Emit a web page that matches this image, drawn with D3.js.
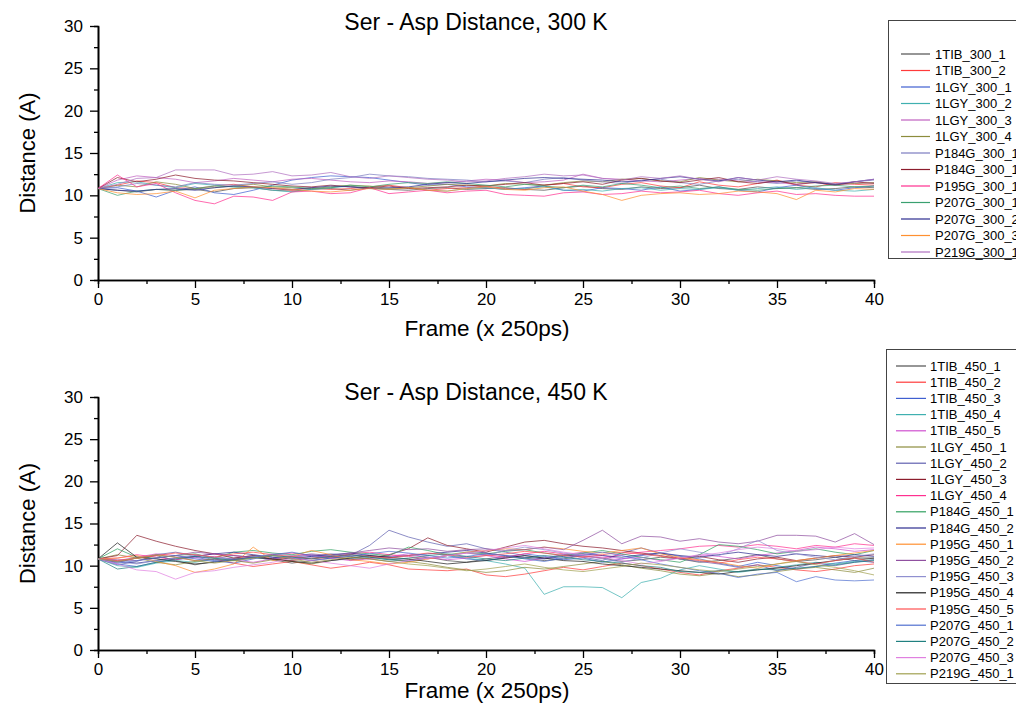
<!DOCTYPE html>
<html>
<head>
<meta charset="utf-8">
<script src="https://cdn.jsdelivr.net/npm/d3@7"></script>
<style>
body { margin: 0; background: #fff; }
svg { display: block; font-family: "Liberation Sans", Arial, sans-serif; }
</style>
</head>
<body>
<script>
// frame index (x 250ps)
var frames = [0,1,2,3,4,5,6,7,8,9,10,11,12,13,14,15,16,17,18,19,20,
              21,22,23,24,25,26,27,28,29,30,31,32,33,34,35,36,37,38,39,40]

// 300 K runs
var names300 = ["1TIB_300_1","1TIB_300_2","1LGY_300_1","1LGY_300_2","1LGY_300_3","1LGY_300_4",
                "P184G_300_1","P184G_300_1","P195G_300_1","P207G_300_1","P207G_300_2","P207G_300_3","P219G_300_1"]
var colors300 = ["#505050","#ff3a3a","#3f5fd0","#3fb0b0","#c060c0","#8c8c3c",
                 "#7c7cc0","#8c1c2c","#ff3090","#3aa070","#2c2c90","#ff9030","#b070c0"]
var dist300 = [
  [10.8,10.6,10.4,10.7,10.6,10.7,10.4,10.8,10.9,10.6,10.5,10.7,10.8,10.6,10.9,10.7,10.6,10.8,10.9,10.7,10.8,10.9,10.7,10.6,10.9,11.1,10.8,10.7,11.0,10.8,10.9,11.2,10.8,10.7,11.0,10.8,10.9,10.7,10.8,11.0,10.9],
  [10.8,11.2,11.7,11.5,10.9,10.8,11.1,11.3,11.0,10.8,10.6,10.9,10.7,10.8,11.0,11.2,10.9,10.6,10.8,10.9,11.1,10.8,10.7,11.2,11.4,11.0,10.9,11.3,11.5,11.1,10.9,11.6,11.2,11.0,11.4,11.8,11.2,11.0,11.5,11.3,11.2],
  [10.8,10.9,10.5,9.8,10.6,11.0,10.3,10.1,10.6,11.2,11.8,12.1,12.3,12.2,12.1,11.8,11.5,11.2,11.3,11.0,10.9,10.7,10.9,11.1,10.6,10.5,10.9,10.8,10.6,11.0,10.5,10.7,11.0,10.6,10.4,10.9,11.2,10.8,10.6,10.9,11.1],
  [10.8,11.5,11.6,11.2,10.9,11.4,11.2,11.0,10.9,10.6,10.4,10.7,10.9,11.1,10.8,10.7,10.9,10.6,10.5,10.8,10.9,10.7,10.8,11.0,10.6,10.7,10.5,10.8,10.9,10.6,10.8,10.7,10.9,10.6,10.8,11.0,10.7,10.9,10.6,10.5,10.7],
  [10.8,11.8,12.3,12.1,11.9,11.5,11.7,12.0,11.8,11.6,11.9,12.0,11.8,11.6,11.5,11.7,11.6,11.4,11.5,11.7,11.9,11.8,11.5,11.6,11.8,12.5,12.0,11.9,11.7,11.6,11.8,12.0,11.9,11.7,11.6,11.5,11.3,11.6,11.2,11.4,11.5],
  [10.8,11.2,11.0,11.6,11.3,10.8,10.9,11.1,11.3,11.0,10.9,10.8,11.0,11.2,11.1,10.8,10.9,11.1,11.3,11.2,11.1,11.4,11.3,11.2,11.5,11.7,11.6,11.9,12.0,11.7,11.6,12.1,11.8,11.6,11.9,11.7,11.5,11.6,11.3,11.4,11.5],
  [10.8,11.0,11.4,11.2,11.0,11.5,11.3,11.2,11.4,11.6,11.3,11.5,11.9,12.1,12.5,12.3,12.2,12.0,11.9,11.8,11.6,11.7,11.5,11.9,12.1,11.8,11.6,11.4,11.8,11.9,11.5,11.3,11.7,11.9,11.6,11.4,11.7,11.5,11.3,11.6,11.8],
  [10.8,12.1,11.6,11.9,12.4,12.0,11.8,11.7,11.5,11.3,11.1,11.0,11.2,11.0,10.9,11.1,10.8,10.9,11.0,11.2,11.1,11.3,11.5,11.2,11.4,11.6,11.3,11.8,12.0,11.7,11.5,11.8,12.1,11.6,11.4,11.7,11.3,11.5,11.2,11.6,11.4],
  [10.8,12.4,11.0,11.4,10.3,9.4,9.0,9.9,9.8,9.4,10.4,10.5,10.2,10.3,10.9,10.2,10.4,10.6,10.3,10.5,10.6,10.1,10.0,9.9,10.3,10.4,10.1,10.2,10.5,10.3,10.4,10.6,10.2,10.0,10.3,10.5,10.1,10.2,10.0,9.9,9.9],
  [10.8,10.0,10.5,10.7,10.6,10.8,11.1,11.0,10.9,11.1,11.0,10.8,10.9,11.2,11.0,11.3,11.5,11.4,11.6,11.4,11.2,11.0,11.3,11.1,10.9,11.2,11.0,11.4,11.2,10.9,11.1,10.8,11.0,10.7,10.6,10.8,10.9,11.1,11.2,11.0,11.1],
  [10.8,10.6,10.5,10.7,10.8,10.6,10.9,11.1,11.0,10.8,10.7,10.9,11.1,11.0,10.8,10.9,11.0,11.3,11.5,11.4,11.6,11.8,12.0,12.1,12.0,11.9,11.8,11.6,11.7,12.0,12.2,11.9,11.7,12.1,11.8,11.6,11.8,11.5,11.3,11.6,11.9],
  [10.8,10.3,10.1,10.2,10.5,9.7,10.6,10.8,11.0,10.9,10.7,10.5,10.4,10.6,10.8,10.7,10.9,10.6,10.5,10.8,11.0,10.7,10.6,10.9,11.0,10.5,10.1,9.4,10.0,10.2,10.3,10.1,10.2,10.5,10.4,10.2,9.5,10.6,10.4,10.8,10.7],
  [10.8,11.3,12.0,12.1,13.0,13.0,13.0,12.4,12.5,12.8,12.3,12.4,12.7,12.2,12.0,12.3,12.1,11.9,11.8,11.6,11.7,12.0,12.2,12.5,12.3,12.4,12.0,11.8,12.2,12.0,12.3,11.9,11.6,12.1,11.8,12.2,11.9,11.7,11.4,11.6,11.9]
]

// 450 K runs
var names450 = ["1TIB_450_1","1TIB_450_2","1TIB_450_3","1TIB_450_4","1TIB_450_5","1LGY_450_1","1LGY_450_2",
                "1LGY_450_3","1LGY_450_4","P184G_450_1","P184G_450_2","P195G_450_1","P195G_450_2","P195G_450_3",
                "P195G_450_4","P195G_450_5","P207G_450_1","P207G_450_2","P207G_450_3","P219G_450_1"]
var colors450 = ["#505050","#ff3a3a","#3f5fd0","#3fb0b0","#d050d0","#8c8c3c","#6060b0",
                 "#8c1c2c","#ff3090","#30a060","#2c2c90","#ff9030","#9050a0","#9090d0",
                 "#202020","#ff5050","#5070d0","#208080","#e080e0","#a0a050"]
var dist450 = [
  [10.8,10.4,10.9,11.2,10.6,10.1,10.5,10.8,11.0,10.7,10.3,10.6,10.9,11.1,10.8,10.5,10.7,11.0,10.6,10.4,10.8,11.1,10.9,10.6,10.8,11.2,10.9,10.5,10.7,11.0,10.8,10.4,10.6,10.9,11.3,10.8,10.5,10.7,11.0,10.6,10.9],
  [10.8,10.5,10.9,11.3,11.0,10.6,10.8,10.3,9.9,10.2,10.5,10.1,9.7,10.0,10.4,10.1,9.6,9.5,9.4,9.6,8.9,8.7,9.0,9.4,9.8,9.5,9.9,10.3,10.0,9.6,9.2,8.9,9.4,9.7,10.1,9.8,9.5,9.3,9.6,10.0,10.2],
  [10.8,10.2,9.9,10.4,10.7,11.0,10.6,10.3,10.8,11.2,11.0,10.6,10.9,11.3,11.1,10.8,10.5,10.9,11.2,10.8,10.6,11.0,11.4,11.1,10.7,10.9,10.4,10.8,11.2,11.5,11.1,10.8,10.3,9.9,10.4,10.0,9.6,9.9,10.3,10.6,10.4],
  [10.8,10.0,9.8,10.3,10.6,10.4,10.8,11.2,11.0,10.7,10.9,11.3,11.1,10.8,11.0,10.7,10.5,10.9,11.2,10.9,10.6,10.2,9.7,6.6,7.5,7.5,7.4,6.2,8.0,8.5,9.5,10.0,9.6,9.2,9.5,9.8,10.1,10.4,10.2,10.5,10.7],
  [10.8,10.6,11.0,11.4,11.2,10.9,11.1,10.7,10.4,10.8,11.0,11.3,10.9,10.6,10.8,11.1,11.4,11.0,10.7,10.9,11.2,10.8,10.5,10.9,11.3,11.6,11.2,10.8,11.0,10.6,10.9,11.3,11.1,10.8,11.2,11.5,11.8,12.2,12.0,11.7,11.9],
  [10.8,11.3,10.9,10.4,10.1,10.5,10.8,10.6,10.3,10.7,10.5,10.2,10.6,10.9,11.1,10.8,10.5,10.2,9.8,9.5,9.2,9.4,9.8,9.6,9.9,10.2,10.5,10.1,9.7,9.4,9.0,8.8,9.1,8.7,8.9,9.3,9.6,9.8,9.5,9.2,9.7],
  [10.8,10.1,10.5,11.3,11.6,11.2,10.7,10.9,11.2,11.0,10.8,11.1,11.4,11.2,12.4,14.2,13.4,12.8,12.3,12.6,12.0,11.6,11.2,10.9,11.3,11.0,10.6,11.5,12.1,11.5,10.8,10.5,10.2,9.8,10.1,9.4,9.8,10.3,10.0,10.4,10.7],
  [10.8,11.2,13.6,12.9,12.3,11.8,11.4,10.9,11.2,10.8,10.6,10.9,11.1,10.7,10.9,11.3,12.0,13.3,12.4,12.0,11.6,12.2,12.8,13.0,12.6,12.3,12.1,11.8,11.5,11.2,10.8,11.1,10.7,10.4,10.8,11.0,10.6,10.9,11.2,11.0,11.3],
  [10.8,10.9,11.3,11.0,10.7,11.1,11.4,11.2,10.9,11.3,11.5,11.2,11.0,11.4,11.6,11.3,11.1,10.8,11.2,11.5,11.3,11.0,11.4,11.7,11.4,11.1,10.9,11.3,11.6,11.8,12.0,12.3,12.4,12.2,12.5,12.3,12.0,12.4,12.2,12.6,12.4],
  [10.8,12.0,11.0,10.9,11.2,11.4,10.9,11.6,11.8,11.5,11.3,11.7,11.9,11.6,11.4,11.2,12.2,11.8,11.3,11.6,11.4,11.7,11.9,11.5,11.2,11.5,11.8,11.4,11.0,10.7,10.4,11.3,12.5,12.3,11.9,11.4,11.7,12.0,11.6,11.3,11.8],
  [10.8,10.5,10.3,10.6,10.9,11.1,11.4,11.6,11.3,11.0,10.8,11.1,11.3,11.5,11.2,11.0,11.2,11.4,11.6,11.8,11.5,11.2,11.0,10.8,11.1,11.4,11.2,11.0,11.3,11.5,11.2,11.0,11.3,11.6,11.3,11.1,11.4,11.2,11.0,11.3,11.1],
  [10.8,10.9,11.2,10.5,10.0,9.2,9.6,10.2,12.2,10.6,11.1,11.8,11.3,10.7,10.5,10.2,10.4,10.8,11.2,11.6,11.8,12.0,11.9,12.2,12.0,11.7,11.5,11.8,12.1,11.4,11.0,10.7,10.4,10.0,9.7,10.2,10.6,10.9,11.2,11.5,11.8],
  [10.8,10.7,10.6,10.9,11.2,11.6,11.4,11.2,11.0,10.8,11.1,11.4,11.2,11.5,11.8,12.1,11.9,12.0,11.7,11.9,12.0,11.8,11.9,12.2,11.9,13.0,14.2,12.6,13.5,13.4,12.9,13.2,12.8,12.6,12.9,13.6,13.6,13.5,12.8,13.8,12.5],
  [10.8,10.5,10.2,10.6,10.9,11.3,11.0,10.7,11.0,11.4,11.2,10.9,10.6,10.8,11.1,10.9,10.6,10.9,11.2,11.5,11.2,11.8,12.2,11.9,11.5,11.2,10.8,10.4,10.9,11.5,12.0,11.6,11.2,12.0,13.0,11.8,11.4,11.0,10.7,11.1,11.4],
  [10.8,12.7,11.0,10.8,10.5,10.2,10.4,10.7,11.0,10.8,10.5,10.3,10.6,10.9,11.2,11.0,10.8,10.5,10.2,10.4,10.6,10.9,11.2,10.9,10.6,10.5,10.2,10.0,9.8,9.6,9.4,9.2,9.0,9.3,9.5,9.7,10.0,10.3,10.6,10.9,10.9],
  [10.8,10.6,10.9,11.2,11.5,11.3,11.0,11.4,11.6,11.3,11.1,10.8,11.0,11.3,11.1,10.9,11.2,11.5,11.3,11.0,11.2,11.4,11.7,11.5,11.2,11.0,11.3,11.6,11.4,11.1,10.9,10.6,10.3,10.7,11.0,10.8,10.5,10.2,10.6,10.9,10.4],
  [10.8,10.3,10.6,10.9,11.2,10.8,10.5,10.7,11.0,11.3,11.6,11.2,10.9,11.1,11.4,11.7,11.5,11.2,10.9,11.1,11.4,11.2,10.8,10.5,10.9,11.3,11.6,11.2,10.7,10.2,9.8,9.4,9.1,8.6,9.0,9.2,8.1,8.7,8.3,8.2,8.3],
  [10.8,9.6,9.9,10.4,10.8,11.1,10.9,10.6,10.9,11.2,11.0,10.8,11.1,11.3,11.0,10.7,10.9,11.2,11.4,11.1,10.8,10.6,10.9,11.2,11.0,10.7,10.5,10.3,10.0,9.8,9.3,9.2,9.4,9.3,9.6,9.5,9.7,9.9,10.1,10.4,10.6],
  [10.8,10.2,9.5,9.3,8.4,9.2,9.4,9.8,10.1,10.4,10.9,10.6,10.3,10.0,9.7,10.2,10.6,10.9,11.2,11.5,11.8,12.1,12.4,12.0,11.6,11.3,11.0,10.6,10.2,10.5,10.9,11.2,11.5,11.9,12.2,12.0,11.7,11.9,12.2,12.0,12.1],
  [10.8,10.5,10.9,11.3,11.0,10.6,10.3,10.6,10.9,11.2,10.8,10.4,10.7,11.0,10.8,10.5,10.2,10.0,9.7,9.4,9.6,9.9,10.2,9.8,9.5,9.3,9.6,9.9,10.3,10.1,9.8,9.5,9.3,9.6,9.9,10.2,10.5,10.1,9.8,9.4,8.9]
]

var xTicks = [0,5,10,15,20,25,30,35,40]
var yTicks = [0,5,10,15,20,25,30]

// svg
var svg = d3.select("body")
    .append("svg")
        .attr("width", 1016)
        .attr("height", 708)

var x = d3.scaleLinear()
    .domain([0, 40])
    .range([98, 874])

var panels = [
    { title: "Ser - Asp Distance, 300 K", names: names300, colors: colors300, series: dist300,
      bottom: 280, top: 26, titleY: 30, xLabelY: 336,
      legend: { x: 888, y: 20, h: 238, first: 54, step: 16.5, l1: 901, l2: 930, tx: 935 } },
    { title: "Ser - Asp Distance, 450 K", names: names450, colors: colors450, series: dist450,
      bottom: 650, top: 397, titleY: 400, xLabelY: 698,
      legend: { x: 886, y: 349, h: 334, first: 366, step: 16.2, l1: 896, l2: 926, tx: 930 } }
]

panels.forEach(function(p) {
    var g = svg.append("g")

    var y = d3.scaleLinear()
        .domain([0, 30])
        .range([p.bottom, p.top])

    // minor ticks
    g.append("g")
        .attr("transform", "translate(0," + p.bottom + ")")
        .call(d3.axisBottom(x).tickValues(d3.range(2.5, 40, 5)).tickSize(4).tickFormat(""))
    g.append("g")
        .attr("transform", "translate(98,0)")
        .call(d3.axisLeft(y).tickValues(d3.range(2.5, 30, 5)).tickSize(4).tickFormat(""))

    // X Axis
    g.append("g")
        .attr("transform", "translate(0," + p.bottom + ")")
        .call(d3.axisBottom(x).tickValues(xTicks).tickSize(8).tickPadding(5).tickSizeOuter(0))
    // Y Axis
    g.append("g")
        .attr("transform", "translate(98,0)")
        .call(d3.axisLeft(y).tickValues(yTicks).tickSize(8).tickPadding(7).tickSizeOuter(0))

    g.selectAll(".domain").attr("stroke", "#000").attr("stroke-width", 1.6)
    g.selectAll(".tick line").attr("stroke", "#000").attr("stroke-width", 1.3)
    g.selectAll(".tick text")
        .attr("font-size", "17px")
        .attr("font-family", "Liberation Sans, Arial, sans-serif")
        .attr("fill", "#000")

    // lines
    var line = d3.line()
        .x(function(d, i) { return x(frames[i]) })
        .y(function(d) { return y(d) })

    g.selectAll("path.run")
        .data(p.series)
        .enter()
        .append("path")
            .attr("class", "run")
            .attr("d", line)
            .attr("fill", "none")
            .attr("stroke", function(d, i) { return p.colors[i] })
            .attr("stroke-width", 0.85)
            .attr("stroke-opacity", 0.85)

    // title
    g.append("text")
        .attr("x", 476)
        .attr("y", p.titleY)
        .attr("font-size", "23px")
        .attr("text-anchor", "middle")
        .text(p.title)

    // X Label
    g.append("text")
        .attr("x", 487)
        .attr("y", p.xLabelY)
        .attr("font-size", "22.5px")
        .attr("text-anchor", "middle")
        .text("Frame (x 250ps)")

    // Y Label
    g.append("text")
        .attr("transform", "translate(35," + ((p.top + p.bottom) / 2) + ") rotate(-90)")
        .attr("font-size", "22px")
        .attr("text-anchor", "middle")
        .text("Distance (A)")

    // legend
    var L = p.legend
    var lg = g.append("g")
    lg.append("rect")
        .attr("x", L.x + 0.5)
        .attr("y", L.y + 0.5)
        .attr("width", 200)
        .attr("height", L.h)
        .attr("fill", "#fff")
        .attr("stroke", "#444")
        .attr("stroke-width", 1)

    var items = lg.selectAll("g.item")
        .data(p.names)
        .enter()
        .append("g")
            .attr("class", "item")
            .attr("transform", function(d, i) { return "translate(0," + (L.first + i * L.step) + ")" })
    items.append("line")
        .attr("x1", L.l1)
        .attr("x2", L.l2)
        .attr("stroke", function(d, i) { return p.colors[i] })
        .attr("stroke-width", 1.2)
    items.append("text")
        .attr("x", L.tx)
        .attr("dy", "0.35em")
        .attr("font-size", "13px")
        .text(function(d) { return d })
})
</script>
</body>
</html>
